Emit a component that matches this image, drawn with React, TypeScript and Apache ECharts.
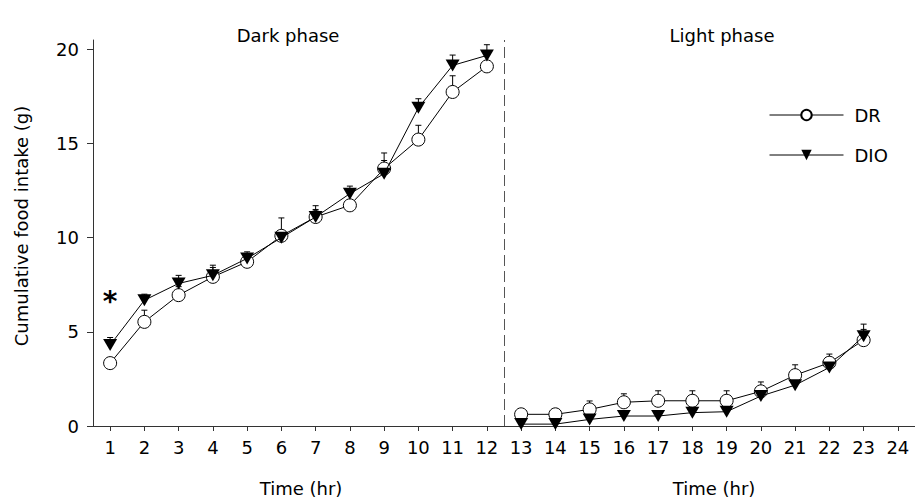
import React, { useEffect, useRef } from "react";
import * as echarts from "echarts";

const xTickLabels = ["1","2","3","4","5","6","7","8","9","10","11","12","13","14","15","16","17","18","19","20","21","22","23","24"];
const hours = [1,2,3,4,5,6,7,8,9,10,11,12,13,14,15,16,17,18,19,20,21,22,23];
const yTicks = [0, 5, 10, 15, 20];

const drMean = [3.34, 5.53, 6.95, 7.92, 8.72, 10.1, 11.1, 11.72, 13.67, 15.21, 17.74, 19.1, 0.62, 0.62, 0.88, 1.26, 1.34, 1.34, 1.34, 1.84, 2.7, 3.36, 4.56];
const drSem = [0.1, 0.62, 0.45, 0.5, 0.3, 0.95, 0.4, 0.3, 0.83, 0.76, 0.86, 0.6, 0.3, 0.3, 0.45, 0.45, 0.53, 0.53, 0.53, 0.5, 0.55, 0.46, 0.57];
const dioMean = [4.3, 6.68, 7.57, 8.0, 8.9, 10.0, 11.1, 12.34, 13.4, 16.9, 19.15, 19.68, 0.1, 0.1, 0.35, 0.53, 0.53, 0.71, 0.76, 1.59, 2.17, 3.11, 4.77];
const dioSem = [0.4, 0.32, 0.43, 0.54, 0.35, 0.2, 0.6, 0.4, 0.7, 0.48, 0.55, 0.57, 0.1, 0.1, 0.1, 0.1, 0.1, 0.1, 0.1, 0.2, 0.25, 0.2, 0.64];

const phaseBoundary = 12.5;
const starPoint = [1, 6.6];

const FONT = "DejaVu Sans";

function pairs(mean: number[], from: number, to: number) {
  return hours.slice(from, to).map((h, i) => [h, mean[from + i]]);
}

function errData(mean: number[], sem: number[]) {
  return hours.map((h, i) => [h, mean[i], mean[i] + sem[i]]);
}

function errSeries(mean: number[], sem: number[]) {
  return {
    type: "custom",
    xAxisIndex: 0,
    yAxisIndex: 0,
    z: 1,
    silent: true,
    data: errData(mean, sem),
    renderItem: (params: any, api: any) => {
      const p0 = api.coord([api.value(0), api.value(1)]);
      const p1 = api.coord([api.value(0), api.value(2)]);
      return {
        type: "group",
        children: [
          { type: "line", shape: { x1: p0[0], y1: p0[1], x2: p1[0], y2: p1[1] }, style: { stroke: "#000", lineWidth: 1 } },
          { type: "line", shape: { x1: p1[0] - 3, y1: p1[1], x2: p1[0] + 3, y2: p1[1] }, style: { stroke: "#000", lineWidth: 1 } },
        ],
      };
    },
  };
}

const drStyle = {
  type: "line",
  name: "DR",
  xAxisIndex: 0,
  yAxisIndex: 0,
  z: 3,
  symbol: "circle",
  symbolSize: 13,
  lineStyle: { color: "#000", width: 1 },
  itemStyle: { color: "#fff", borderColor: "#000", borderWidth: 1 },
};

const dioStyle = {
  type: "line",
  name: "DIO",
  xAxisIndex: 0,
  yAxisIndex: 0,
  z: 4,
  symbol: "triangle",
  symbolRotate: 180,
  symbolSize: [14, 12],
  lineStyle: { color: "#000", width: 1 },
  itemStyle: { color: "#000", borderColor: "#000", borderWidth: 0 },
};

export default function App() {
  const ref = useRef<HTMLDivElement>(null);
  useEffect(() => {
    if (!ref.current) return;
    const chart = echarts.init(ref.current, undefined, { renderer: "svg" });
    chart.setOption({
      animation: false,
      backgroundColor: "#fff",
      textStyle: { fontFamily: FONT },
      grid: { left: 93, right: -5, top: 40, bottom: 73, containLabel: false },
      xAxis: [
        { type: "value", min: 0.5, max: 24.5, show: false },
        {
          type: "category",
          data: xTickLabels,
          boundaryGap: true,
          position: "bottom",
          axisLine: { show: true, lineStyle: { color: "#333", width: 1 } },
          axisTick: { show: true, alignWithLabel: true, length: 5, lineStyle: { color: "#333" } },
          axisLabel: { show: true, color: "#000", fontSize: 18, fontFamily: FONT, margin: 12 },
          splitLine: { show: false },
        },
      ],
      yAxis: {
        type: "value",
        min: 0,
        max: 20.5,
        interval: 5,
        axisLine: { show: true, lineStyle: { color: "#333", width: 1 } },
        axisTick: { show: true, length: 6, customValues: yTicks, lineStyle: { color: "#333" } },
        axisLabel: { show: true, color: "#000", fontSize: 18, fontFamily: FONT, margin: 14, customValues: yTicks },
        splitLine: { show: false },
      },
      legend: {
        data: ["DR", "DIO"],
        orient: "vertical",
        left: 764,
        top: 101,
        itemWidth: 74,
        itemHeight: 13,
        itemGap: 22,
        lineStyle: { width: 1, color: "#000" },
        textStyle: { fontFamily: FONT, fontSize: 18, color: "#000", padding: [0, 0, 0, 6] },
      },
      graphic: [
        { type: "text", x: 288, y: 35, style: { text: "Dark phase", fontFamily: FONT, fontSize: 18, fill: "#000", textAlign: "center", textVerticalAlign: "middle" } },
        { type: "text", x: 722, y: 35, style: { text: "Light phase", fontFamily: FONT, fontSize: 18, fill: "#000", textAlign: "center", textVerticalAlign: "middle" } },
        { type: "text", x: 301, y: 488, style: { text: "Time (hr)", fontFamily: FONT, fontSize: 18, fill: "#000", textAlign: "center", textVerticalAlign: "middle" } },
        { type: "text", x: 714, y: 488, style: { text: "Time (hr)", fontFamily: FONT, fontSize: 18, fill: "#000", textAlign: "center", textVerticalAlign: "middle" } },
        { type: "text", x: 21, y: 226, rotation: Math.PI / 2, style: { text: "Cumulative food intake (g)", fontFamily: FONT, fontSize: 18, fill: "#000", textAlign: "center", textVerticalAlign: "middle" } },
      ],
      series: [
        errSeries(drMean, drSem),
        errSeries(dioMean, dioSem),
        {
          ...drStyle,
          data: pairs(drMean, 0, 12),
          markLine: {
            silent: true,
            symbol: "none",
            label: { show: false },
            lineStyle: { color: "#555", width: 1, type: [11, 5] },
            data: [{ xAxis: phaseBoundary }],
          },
        },
        { ...drStyle, data: pairs(drMean, 12, 23) },
        {
          ...dioStyle,
          data: pairs(dioMean, 0, 12),
          markPoint: {
            silent: true,
            symbol: "circle",
            symbolSize: 0,
            data: [{ coord: starPoint }],
            label: { show: true, position: "inside", formatter: "*", fontSize: 28, fontWeight: "bold", color: "#000", fontFamily: FONT },
          },
        },
        { ...dioStyle, data: pairs(dioMean, 12, 23) },
      ],
    });
    return () => chart.dispose();
  }, []);
  return <div ref={ref} style={{ position: "absolute", left: 0, top: 0, width: 915, height: 499 }} />;
}
